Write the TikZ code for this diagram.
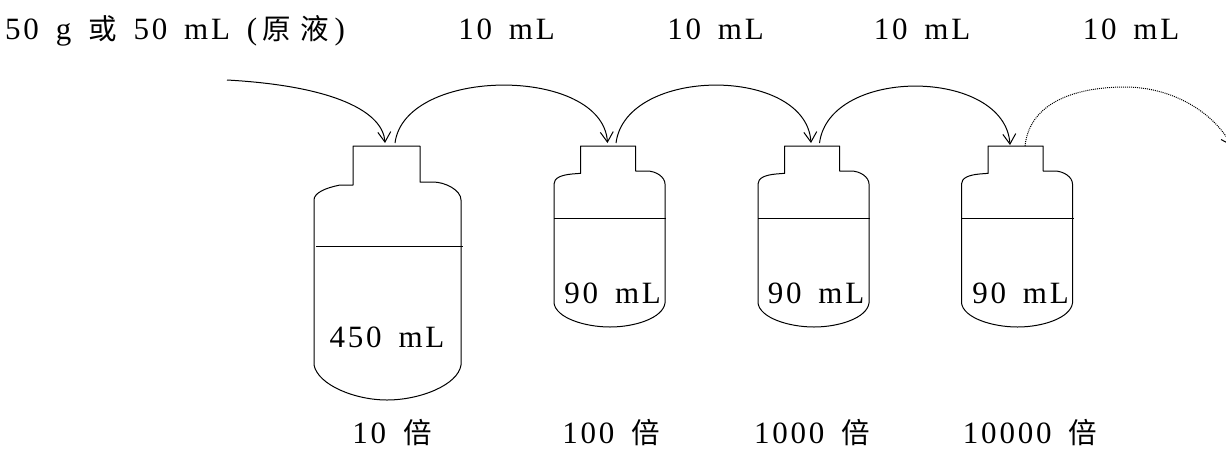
\documentclass[tikz,border=0pt]{standalone}
\usepackage{fontspec}
\setmainfont[LetterSpace=9,WordSpace=1.6]{Liberation Serif}
\newfontfamily\cjk[Scale=0.92]{Noto Sans CJK TC}
\usetikzlibrary{arrows.meta}

\begin{document}
\begin{tikzpicture}[x=1pt,y=-1pt,line width=1pt]
  \tikzstyle{LabelStyle}=[inner sep=0pt,anchor=base,font=\fontsize{31}{36}\selectfont]
  \tikzstyle{BottleStyle}=[draw,line join=round]
  \tikzstyle{EdgeStyle}=[-{Straight Barb[angle=65:12pt]}]
  \useasboundingbox (0,0) rectangle (1226,448);
  \clip (0,0) rectangle (1226,448);
  % big bottle
  \draw[BottleStyle] (420,146) -- (353,146) -- (353,185) -- (340,185)
     .. controls (325,188) and (314,193) .. (314,200) -- (314,365)
     .. controls (318,385) and (355,400) .. (387,400)
     .. controls (420,400) and (458,385) .. (461,365) -- (461,200)
     .. controls (461,190) and (445,182) .. (433,182) -- (420,182) -- cycle;
  \draw (316,246) -- (463,246);
  % small bottles
  \foreach \dx in {0,204,407.5}{
    \begin{scope}[xshift=\dx]
      \draw[BottleStyle] (635.7,146) -- (580.7,146) -- (580.7,173.3) -- (572,174)
         .. controls (561,175) and (554,178) .. (554,184) -- (554,303)
         .. controls (556,318) and (585,327) .. (610,327)
         .. controls (635,327) and (663,318) .. (665,303) -- (665,184)
         .. controls (665,177) and (656,171) .. (647,171) -- (635.7,171) -- cycle;
      \draw (554,218) -- (666,218);
    \end{scope}
  }
  % texts
  \node[LabelStyle] (stock) at (175,39) {50 g {\cjk 或} 50 mL (\,{\cjk 原}\kern10pt{\cjk 液}\,)};
  \node[LabelStyle] (v1) at (506.5,39) {10 mL};
  \node[LabelStyle] (v2) at (715.5,39) {10 mL};
  \node[LabelStyle] (v3) at (922,39) {10 mL};
  \node[LabelStyle] (v4) at (1131,39) {10 mL};
  \node[LabelStyle] (c1) at (387,347) {450 mL};
  \node[LabelStyle] (c2) at (612.6,303) {90 mL};
  \node[LabelStyle] (c3) at (816,303) {90 mL};
  \node[LabelStyle] (c4) at (1020.5,303) {90 mL};
  \node[LabelStyle] (f1) at (392,443) {10 {\cjk 倍}};
  \node[LabelStyle] (f2) at (611,443) {100 {\cjk 倍}};
  \node[LabelStyle] (f3) at (812,443) {1000 {\cjk 倍}};
  \node[LabelStyle] (f4) at (1030,443) {10000 {\cjk 倍}};
  % transfers
  \coordinate (src) at (227,80);
  \coordinate (in1) at (385,143);
  \coordinate (out1) at (395,143);
  \coordinate (in2) at (607.5,143);
  \coordinate (out2) at (616,143);
  \coordinate (in3) at (811,143);
  \coordinate (out3) at (819.5,143);
  \coordinate (in4) at (1010,145);
  \coordinate (out4) at (1025,146);
  \coordinate (next) at (1232,146);
  \draw[EdgeStyle] (src) .. controls (335,86) and (383,112) .. (in1);
  \draw[EdgeStyle] (out1) .. controls +(10,-77) and +(-5,-77) .. (in2);
  \draw[EdgeStyle] (out2) .. controls +(10,-77) and +(-5,-77) .. (in3);
  \draw[EdgeStyle] (out3) .. controls +(10,-77) and +(-5,-77) .. (in4);
  \draw[EdgeStyle,densely dotted] (out4) .. controls (1030,100) and (1080,87) .. (1125,87)
     .. controls (1170,87) and (1212,110) .. (next);
\end{tikzpicture}
\end{document}
